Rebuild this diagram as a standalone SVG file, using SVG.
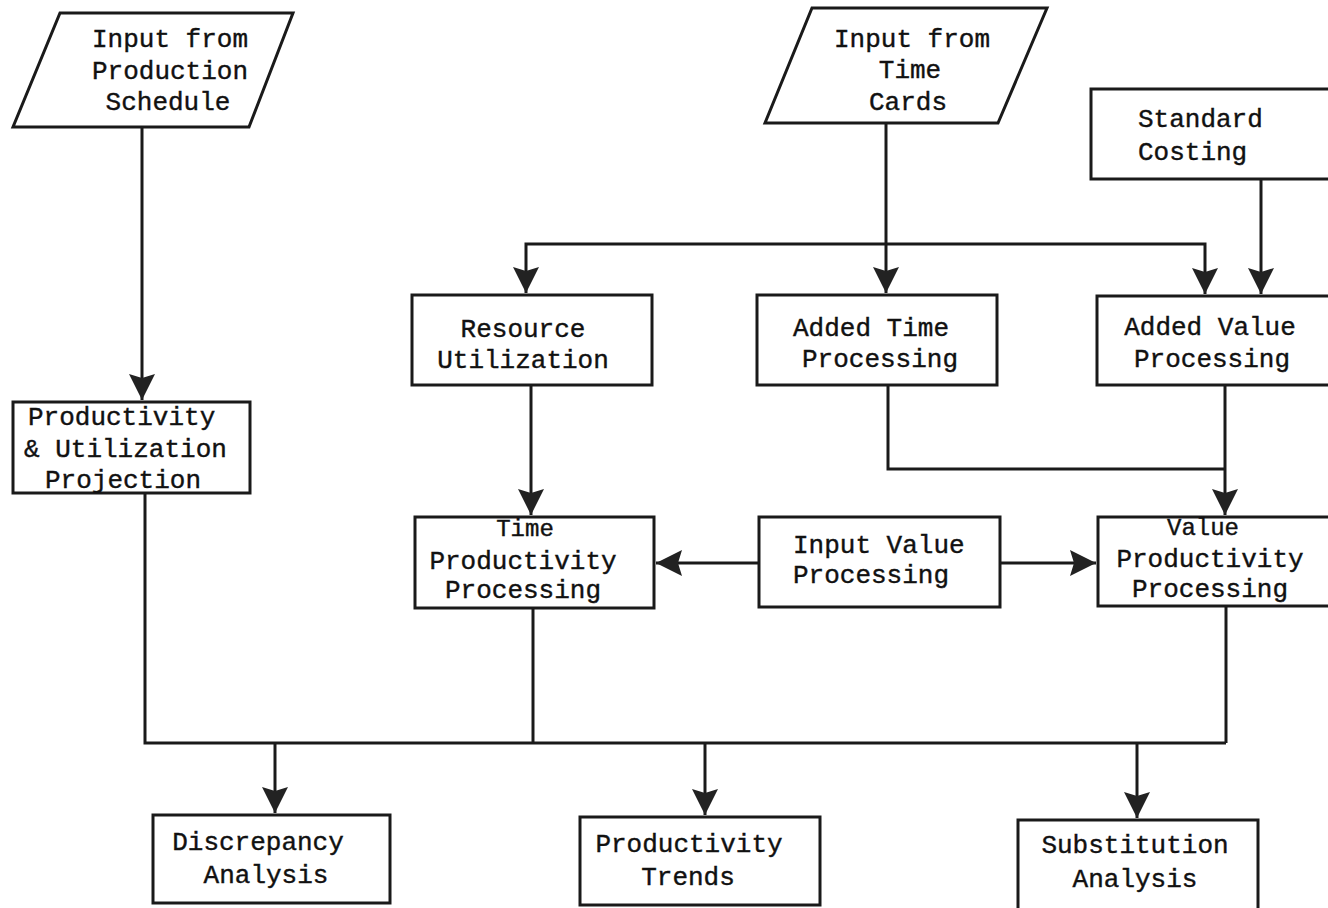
<svg xmlns="http://www.w3.org/2000/svg" width="1328" height="908" viewBox="0 0 1328 908">
<style>
.box{fill:#fff;stroke:#1a1a1a;stroke-width:3}
.ln{fill:none;stroke:#1a1a1a;stroke-width:3}
text{font-family:"Liberation Mono","DejaVu Sans Mono",monospace;font-size:26px;fill:#111;stroke:#111;stroke-width:0.4}
.c{text-anchor:middle}
.s{font-size:24px}
</style>
<defs>
<marker id="ah" viewBox="-28 -15 30 30" markerWidth="30" markerHeight="30" refX="0" refY="0" orient="auto" markerUnits="userSpaceOnUse">
<path d="M0,0 L-26,-13 L-22,0 L-26,13 Z" fill="#222"/>
</marker>
</defs>
<rect width="1328" height="908" fill="#fff"/>
<g id="connectors">
<path class="ln" d="M142,127 V400" marker-end="url(#ah)"/>
<path class="ln" d="M886,123 V293" marker-end="url(#ah)"/>
<path class="ln" d="M886,244 H526 V293" marker-end="url(#ah)"/>
<path class="ln" d="M886,244 H1205 V294" marker-end="url(#ah)"/>
<path class="ln" d="M1261,179 V294" marker-end="url(#ah)"/>
<path class="ln" d="M531,385 V515" marker-end="url(#ah)"/>
<path class="ln" d="M888,385 V469 H1225"/>
<path class="ln" d="M1225,385 V515" marker-end="url(#ah)"/>
<path class="ln" d="M759,563 H656" marker-end="url(#ah)"/>
<path class="ln" d="M1000,563 H1096" marker-end="url(#ah)"/>
<path class="ln" d="M145,493 V743 H1226"/>
<path class="ln" d="M533,608 V743"/>
<path class="ln" d="M1226,606 V743"/>
<path class="ln" d="M275,743 V813" marker-end="url(#ah)"/>
<path class="ln" d="M705,743 V815" marker-end="url(#ah)"/>
<path class="ln" d="M1137,743 V818" marker-end="url(#ah)"/>
</g>
<g id="input-production-schedule">
<polygon class="box" points="60,13 293,13 249,127 13,127"/>
<text class="c" x="170" y="47">Input from</text>
<text class="c" x="170" y="79">Production</text>
<text class="c" x="168" y="110">Schedule</text>
</g>
<g id="input-time-cards">
<polygon class="box" points="812,8 1047,8 998,123 765,123"/>
<text class="c" x="912" y="47">Input from</text>
<text class="c" x="910" y="78">Time</text>
<text class="c" x="908" y="110">Cards</text>
</g>
<g id="standard-costing">
<rect class="box" x="1091" y="89" width="245" height="90"/>
<text x="1138" y="127">Standard</text>
<text x="1138" y="160">Costing</text>
</g>
<g id="resource-utilization">
<rect class="box" x="412" y="295" width="240" height="90"/>
<text class="c" x="523" y="337">Resource</text>
<text class="c" x="523" y="368">Utilization</text>
</g>
<g id="added-time-processing">
<rect class="box" x="757" y="295" width="240" height="90"/>
<text class="c" x="871" y="336">Added Time</text>
<text class="c" x="880" y="367">Processing</text>
</g>
<g id="added-value-processing">
<rect class="box" x="1097" y="296" width="240" height="89"/>
<text class="c" x="1210" y="335">Added Value</text>
<text class="c" x="1212" y="367">Processing</text>
</g>
<g id="productivity-utilization-projection">
<rect class="box" x="13" y="402" width="237" height="91"/>
<text x="28" y="425">Productivity</text>
<text x="24" y="457">&amp; Utilization</text>
<text x="45" y="488">Projection</text>
</g>
<g id="time-productivity-processing">
<rect class="box" x="415" y="517" width="239" height="91"/>
<text class="c s" x="525" y="536">Time</text>
<text class="c" x="523" y="569">Productivity</text>
<text class="c" x="523" y="598">Processing</text>
</g>
<g id="input-value-processing">
<rect class="box" x="759" y="517" width="241" height="90"/>
<text x="793" y="553">Input Value</text>
<text x="793" y="583">Processing</text>
</g>
<g id="value-productivity-processing">
<rect class="box" x="1098" y="517" width="240" height="89"/>
<text class="c s" x="1203" y="535">Value</text>
<text class="c" x="1210" y="567">Productivity</text>
<text class="c" x="1210" y="597">Processing</text>
</g>
<g id="discrepancy-analysis">
<rect class="box" x="153" y="815" width="237" height="88"/>
<text class="c" x="258" y="850">Discrepancy</text>
<text class="c" x="266" y="883">Analysis</text>
</g>
<g id="productivity-trends">
<rect class="box" x="580" y="817" width="240" height="88"/>
<text class="c" x="689" y="852">Productivity</text>
<text class="c" x="688" y="885">Trends</text>
</g>
<g id="substitution-analysis">
<rect class="box" x="1018" y="820" width="240" height="95"/>
<text class="c" x="1135" y="853">Substitution</text>
<text class="c" x="1135" y="887">Analysis</text>
</g>
</svg>
